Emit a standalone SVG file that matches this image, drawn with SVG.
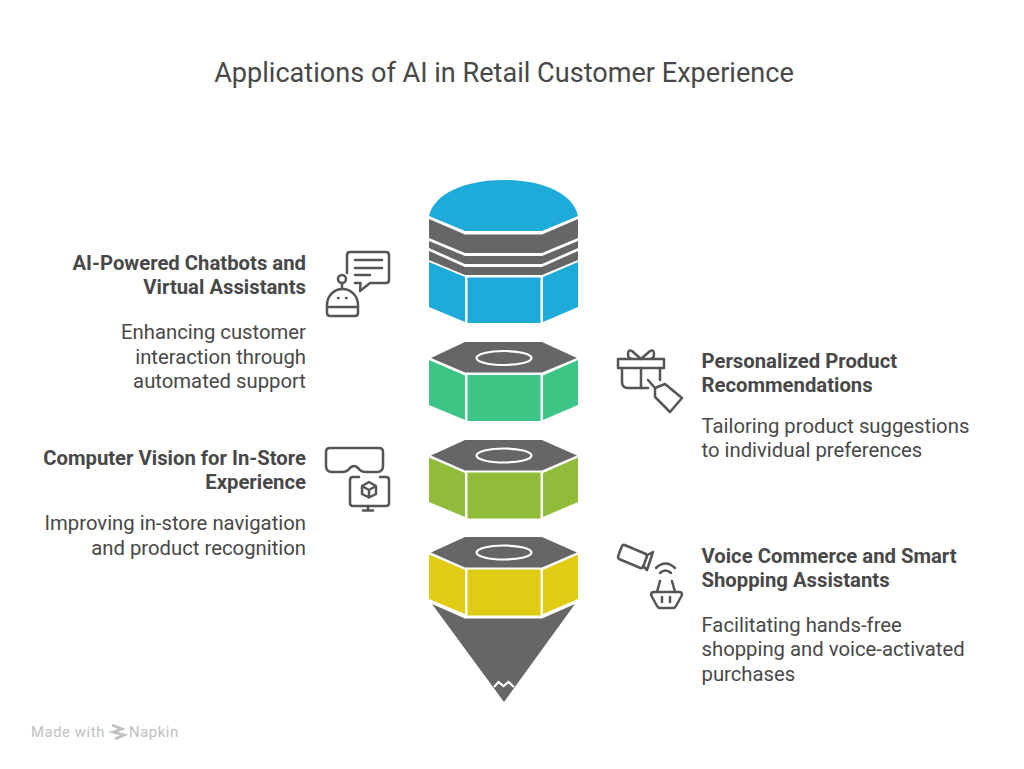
<svg xmlns="http://www.w3.org/2000/svg" width="1024" height="769" viewBox="0 0 1024 769">
<style>
text{font-family:Roboto,"Liberation Sans",sans-serif;fill:#484848}
.t{font-size:27.100px;text-anchor:middle}
.h{font-size:20.300px;font-weight:700}
.d{font-size:20.300px}
.e{text-anchor:end}
.g{fill:#666}
.ring{fill:none;stroke:#fff;stroke-width:2.200}
.ic{fill:none;stroke:#555;stroke-width:2.500;stroke-linecap:round;stroke-linejoin:round}
.wm{font-size:14.800px;fill:#c0c0c0;letter-spacing:.6px}
.blue{fill:#1eabda}.green{fill:#3dc585}.olive{fill:#90bc3a}.yellow{fill:#e0cb15}
</style>
<rect width="1024" height="769" fill="#fff"/>
<text class="t" x="504" y="82.300">Applications of AI in Retail Customer Experience</text>
<g id="stack">
<g id="layer-blue">
<path class="blue" d="M429 216C434 193 466 180 504 180C542 180 573 193 578 216L542 231H465Z"/>
<path class="g" d="M429 219L465 234.500H542L578 219V238L542 253H465L429 238Z"/>
<path class="g" d="M429 241L465 256H542L578 241V248L542 264H465L429 248Z"/>
<path class="g" d="M429 251L465 267H542L578 251V260L542 275H465L429 260Z"/>
<path class="blue" d="M429 262L465 277V322L429 307Z"/>
<rect class="blue" x="467.500" y="277.500" width="73" height="45.500"/>
<path class="blue" d="M543 277L578 262V307L543 322Z"/>
</g>
<g id="layer-green">
<path class="g" d="M465 342H542L577 358L542 372.500H465L431 358Z"/>
<ellipse class="ring" cx="504" cy="358" rx="27.500" ry="7"/>
<path class="green" d="M429 360L465 375.500V420L429 405Z"/>
<rect class="green" x="467.500" y="375" width="73" height="46"/>
<path class="green" d="M543 375.500L578 360V405L543 420Z"/>
</g>
<g id="layer-olive">
<path class="g" d="M465 440H542L577 455.500L542 470.500H465L431 455.500Z"/>
<ellipse class="ring" cx="504" cy="455.500" rx="27.500" ry="7"/>
<path class="olive" d="M429 457.500L465 473V517L429 502Z"/>
<rect class="olive" x="467.500" y="472.500" width="73" height="46"/>
<path class="olive" d="M543 473L578 457.500V502L543 517Z"/>
</g>
<g id="layer-yellow">
<path class="g" d="M465 537H542L577 552.500L542 567.500H465L431 552.500Z"/>
<ellipse class="ring" cx="504" cy="552.500" rx="27.500" ry="7"/>
<path class="yellow" d="M429 554.500L465 570V614L429 599Z"/>
<rect class="yellow" x="467.500" y="569.500" width="73" height="46"/>
<path class="yellow" d="M543 570L578 554.500V599L543 614Z"/>
</g>
<g id="tip">
<path class="g" d="M432 604L465 618.500H542L575 604L504 702Z"/>
<path d="M494 687L498.500 682L503.500 686L508.500 682L514 687" fill="none" stroke="#fff" stroke-width="2.200"/>
</g>
</g>
<g id="connectors"/>
<g id="node-chatbots">
<text class="h e" x="306" y="269.700">AI-Powered Chatbots and</text>
<text class="h e" x="306" y="294.200">Virtual Assistants</text>
<text class="d e" x="306" y="339.200">Enhancing customer</text>
<text class="d e" x="306" y="363.700">interaction through</text>
<text class="d e" x="306" y="388.200">automated support</text>
<g class="ic">
<path d="M347 273V255Q347 252 350 252H386Q389 252 389 255V280Q389 283 386 283H370L360 291L360.500 283H355"/>
<path d="M355 260H382M355 268H382M355 275H370"/>
<circle cx="342" cy="279" r="4"/>
<path d="M342 283V289"/>
<path d="M327 313V305C327 296 334 289 342.500 289C351 289 358 296 358 305V313Q358 316 355 316H330Q327 316 327 313Z"/>
<path d="M327 307H358"/>
<path d="M338 298H338.500M346 298H346.500"/>
</g>
</g>
<g id="node-recommendations">
<text class="h" x="701.500" y="367.700">Personalized Product</text>
<text class="h" x="701.500" y="392.200">Recommendations</text>
<text class="d" x="701.500" y="432.700">Tailoring product suggestions</text>
<text class="d" x="701.500" y="457.200">to individual preferences</text>
<g class="ic">
<path d="M618 359H664V368H618Z"/>
<path d="M622 368V382Q622 388 628 388H648"/>
<path d="M660 368V380"/>
<path d="M641 368V388"/>
<path d="M641 359L632 351Q628 349 628 354Q628 359 632 359M641 359L650 351Q654 349 654 354Q654 359 650 359"/>
<path d="M648 380L655 388"/>
<path d="M655 388L665 384L682 398L670 412L655 397Z"/>
</g>
</g>
<g id="node-vision">
<text class="h e" x="306" y="464.700">Computer Vision for In-Store</text>
<text class="h e" x="306" y="489.200">Experience</text>
<text class="d e" x="306" y="530.200">Improving in-store navigation</text>
<text class="d e" x="306" y="554.700">and product recognition</text>
<g class="ic">
<path d="M330 448H379Q383 448 383 452V466Q383 472 377 472H366Q361 472 358 468Q354 464 350 468Q347 472 342 472H332Q326 472 326 466V452Q326 448 330 448Z"/>
<path d="M359 477H353Q350 477 350 480V503Q350 506 353 506H386Q389 506 389 503V480Q389 477 386 477H380"/>
<path d="M369 482L376 486V494L369 497.500L362 494V486ZM362 486L369 490L376 486M369 490V497.500"/>
<path d="M368 506V510.500M363 510.500H373"/>
</g>
</g>
<g id="node-voice">
<text class="h" x="701.500" y="562.700">Voice Commerce and Smart</text>
<text class="h" x="701.500" y="587.200">Shopping Assistants</text>
<text class="d" x="701.500" y="631.700">Facilitating hands-free</text>
<text class="d" x="701.500" y="656.200">shopping and voice-activated</text>
<text class="d" x="701.500" y="680.700">purchases</text>
<g class="ic">
<path d="M624.500 545L646 554Q647.500 555 647 556.500L643 567Q642 568.500 640.500 568L619 559Q617.500 558 618 556.500L622 546Q623 544.500 624.500 545Z"/>
<path d="M646.500 555.500L653 552L647 570L643 566"/>
<path d="M656 568Q665.500 559 675 568"/>
<path d="M660 573Q665.500 568 671 573"/>
<path d="M660 581L657 592M672 581L675 592"/>
<path d="M654 592H679Q682 592 682 595L676 606Q675 608 673 608H660Q658 608 657 606L651 595Q651 592 654 592Z"/>
<path d="M662 597V602M670 597V602"/>
</g>
</g>
<g id="watermark">
<text class="wm" x="31" y="736.500">Made with</text>
<path d="M112 725L122 729L113 732L124 735L115 739" fill="none" stroke="#c0c0c0" stroke-width="2.800"/>
<text class="wm" x="129" y="736.500">Napkin</text>
</g>
</svg>
